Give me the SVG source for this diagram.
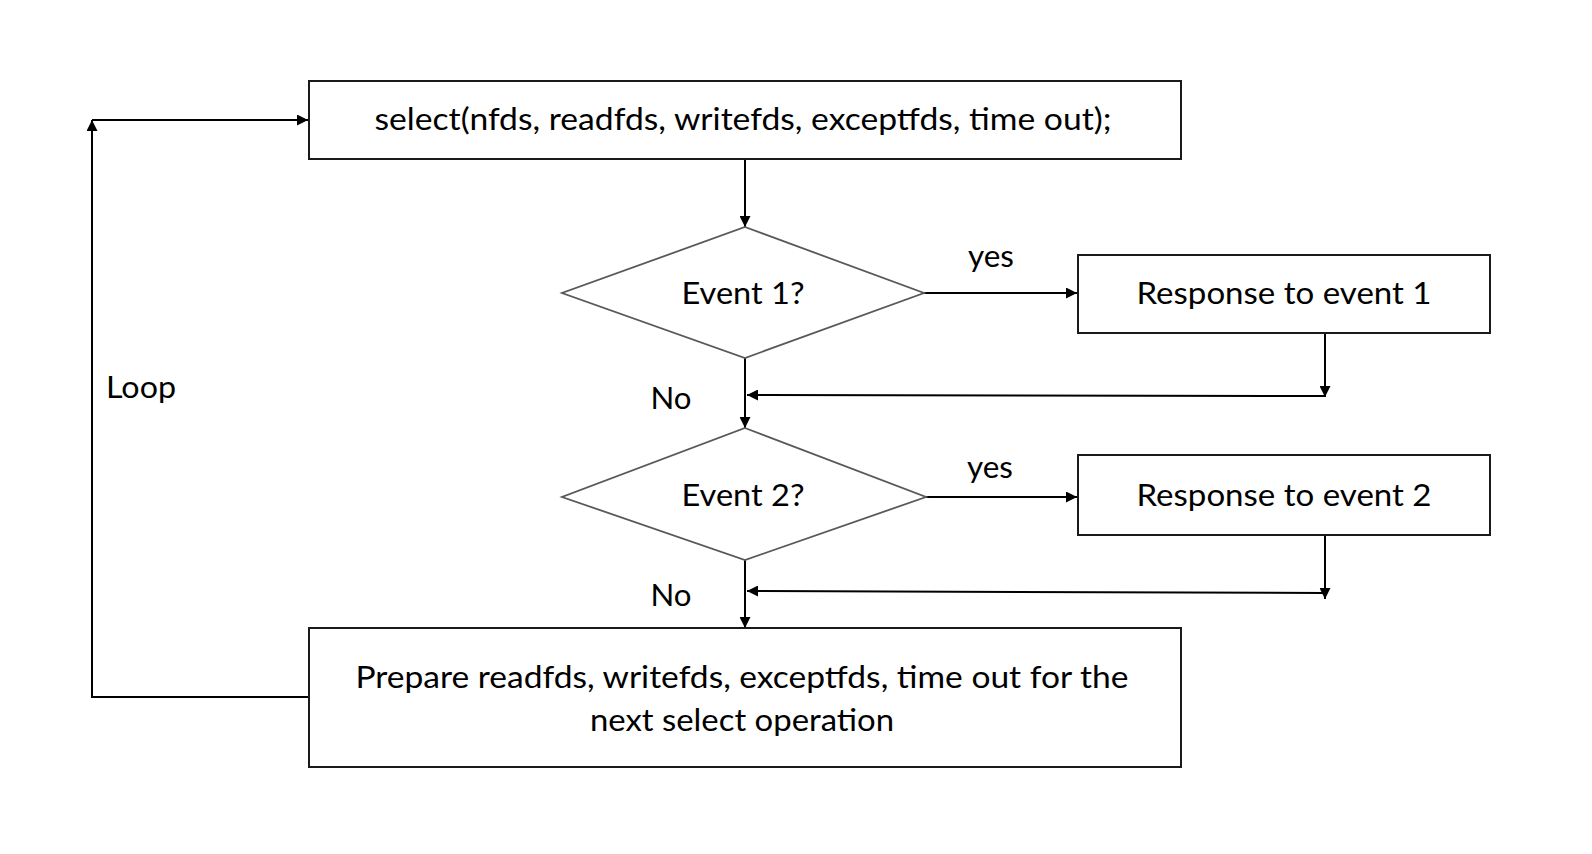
<svg xmlns="http://www.w3.org/2000/svg" width="1592" height="854" viewBox="0 0 1592 854">
<style>
.box{fill:#fff;stroke:#1a1a1a;stroke-width:2}
.dia{fill:#fff;stroke:#595959;stroke-width:1.8}
.t{font-family:Lato,"Open Sans","Liberation Sans",sans-serif;font-size:30px;fill:#000;text-anchor:middle}
.c{fill:none;stroke:#000;stroke-width:2}
</style>
<defs>
<marker id="a" viewBox="0 0 10 10" refX="10" refY="5" markerWidth="12" markerHeight="11" markerUnits="userSpaceOnUse" orient="auto">
<path d="M0,0 L10,5 L0,10 z" fill="#000"/>
</marker>
</defs>
<rect width="1592" height="854" fill="#fff"/>
<g id="connectors">
<path class="c" d="M745,159 V227" marker-end="url(#a)"/>
<path class="c" d="M924,293 H1077" marker-end="url(#a)"/>
<path class="c" d="M1325,333 V397" marker-end="url(#a)"/>
<path class="c" d="M1325,396 L747,395" marker-end="url(#a)"/>
<path class="c" d="M745,358 V428" marker-end="url(#a)"/>
<path class="c" d="M926,497 H1077" marker-end="url(#a)"/>
<path class="c" d="M1325,535 V599" marker-end="url(#a)"/>
<path class="c" d="M1325,593 L747,591" marker-end="url(#a)"/>
<path class="c" d="M745,560 V628" marker-end="url(#a)"/>
<path class="c" d="M309,697 H92 V120" marker-end="url(#a)"/>
<path class="c" d="M92,120 H308" marker-end="url(#a)"/>
</g>
<g id="select">
<rect class="box" x="309" y="81" width="872" height="78"/>
<text class="t" x="743" y="130" textLength="737" lengthAdjust="spacingAndGlyphs">select(nfds, readfds, writefds, exceptfds, time out);</text>
</g>
<g id="event1">
<polygon class="dia" points="745,227 924,293 745,358 562,293"/>
<text class="t" x="743" y="304" textLength="123" lengthAdjust="spacingAndGlyphs">Event 1?</text>
</g>
<g id="response1">
<rect class="box" x="1078" y="255" width="412" height="78"/>
<text class="t" x="1284" y="304" textLength="295" lengthAdjust="spacingAndGlyphs">Response to event 1</text>
</g>
<g id="event2">
<polygon class="dia" points="745,428 926,497 745,560 562,497"/>
<text class="t" x="743" y="506" textLength="123" lengthAdjust="spacingAndGlyphs">Event 2?</text>
</g>
<g id="response2">
<rect class="box" x="1078" y="455" width="412" height="80"/>
<text class="t" x="1284" y="506" textLength="295" lengthAdjust="spacingAndGlyphs">Response to event 2</text>
</g>
<g id="prepare">
<rect class="box" x="309" y="628" width="872" height="139"/>
<text class="t" x="742" y="688" textLength="773" lengthAdjust="spacingAndGlyphs">Prepare readfds, writefds, exceptfds, time out for the</text>
<text class="t" x="742" y="731" textLength="304" lengthAdjust="spacingAndGlyphs">next select operation</text>
</g>
<g id="labels">
<text class="t" x="991" y="267" textLength="46" lengthAdjust="spacingAndGlyphs">yes</text>
<text class="t" x="990" y="478" textLength="46" lengthAdjust="spacingAndGlyphs">yes</text>
<text class="t" x="671" y="409" textLength="41" lengthAdjust="spacingAndGlyphs">No</text>
<text class="t" x="671" y="606" textLength="41" lengthAdjust="spacingAndGlyphs">No</text>
<text class="t" x="141" y="398" textLength="70" lengthAdjust="spacingAndGlyphs">Loop</text>
</g>
</svg>
